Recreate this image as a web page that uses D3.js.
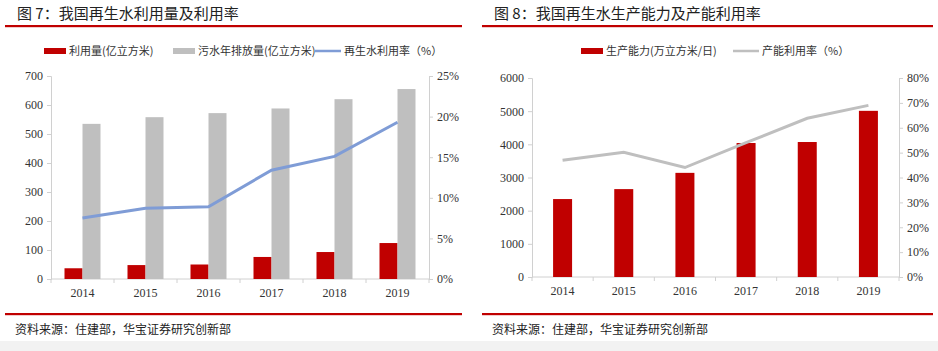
<!DOCTYPE html>
<html lang="zh">
<head>
<meta charset="UTF-8">
<title>再生水</title>
<script src="https://d3js.org/d3.v7.min.js"></script>
<style>
  body { margin: 0; background: #fff; }
  svg { display: block; }
  .cjk { font-family: "Noto Sans CJK SC", sans-serif; }
  .tick text { font-family: "Liberation Serif", serif; font-size: 12px; fill: #333; }
</style>
</head>
<body>
<script>
  // ---- data ----
  const years = ["2014", "2015", "2016", "2017", "2018", "2019"];
  // 图7
  const reuse = [37, 48, 50, 76, 93, 124];            // 利用量(亿立方米)
  const discharge = [535, 558, 572, 588, 620, 655];   // 污水年排放量(亿立方米)
  const reuseRate = [7.5, 8.7, 8.9, 13.4, 15.1, 19.3]; // 再生水利用率(%)
  // 图8
  const capacity = [2350, 2650, 3140, 4040, 4070, 5010]; // 生产能力(万立方米/日)
  const capRate = [46.9, 50.1, 44.0, 54.0, 63.8, 69.0];   // 产能利用率(%)

  const leftTicks = [0, 100, 200, 300, 400, 500, 600, 700];
  const leftPct = [0, 5, 10, 15, 20, 25];
  const rightTicks = [0, 1000, 2000, 3000, 4000, 5000, 6000];
  const rightPct = [0, 10, 20, 30, 40, 50, 60, 70, 80];

  const W = 938, H = 351;
  const red = "#c00000", gray = "#bfbfbf", blue = "#7f9cd6", axisCol = "#d0d0d0";

  const svg = d3.select("body").append("svg").attr("width", W).attr("height", H);
  svg.append("rect").attr("x", 0).attr("y", 341).attr("width", W).attr("height", 10).attr("fill", "#f2f2f2");

  function frame(x0, x1, title, titleX) {
    svg.append("text").attr("class", "cjk").attr("x", titleX).attr("y", 19)
      .attr("font-size", 15).attr("fill", "#222").text(title);
    svg.append("rect").attr("x", x0).attr("y", 25).attr("width", x1 - x0).attr("height", 2.2).attr("fill", red);
    svg.append("rect").attr("x", x0).attr("y", 313).attr("width", x1 - x0).attr("height", 2.2).attr("fill", red);
    svg.append("text").attr("class", "cjk").attr("x", x0 + 10).attr("y", 334)
      .attr("font-size", 12).attr("fill", "#222").text("资料来源：住建部，华宝证券研究创新部");
  }

  function styleAxis(g) {
    g.selectAll("path, line").attr("stroke", axisCol);
  }

  function xAxisDraw(x, y0) {
    const g = svg.append("g").attr("transform", `translate(0,${y0})`);
    g.append("line").attr("x1", x.range()[0]).attr("x2", x.range()[1]).attr("stroke", axisCol);
    const edges = years.map(d => x(d)).concat([x.range()[1]]);
    g.selectAll("line.sep").data(edges).join("line").attr("class", "sep")
      .attr("x1", d => d).attr("x2", d => d).attr("y1", 0).attr("y2", 4).attr("stroke", axisCol);
    g.selectAll("text").data(years).join("text")
      .attr("x", d => x(d) + x.bandwidth() / 2).attr("y", 18)
      .attr("text-anchor", "middle").attr("font-family", "Liberation Serif, serif")
      .attr("font-size", 12).attr("fill", "#333").text(d => d);
  }

  function legendItem(x, y, type, color, label) {
    if (type === "bar") {
      svg.append("rect").attr("x", x).attr("y", y - 3).attr("width", 22).attr("height", 6).attr("fill", color);
    } else {
      svg.append("line").attr("x1", x).attr("x2", x + 26).attr("y1", y).attr("y2", y)
        .attr("stroke", color).attr("stroke-width", 2.5);
    }
    svg.append("text").attr("class", "cjk").attr("x", x + (type === "bar" ? 25 : 29)).attr("y", y + 4)
      .attr("font-size", 11).attr("fill", "#333").text(label);
  }

  // ---------- 图7 ----------
  frame(5, 462, "图 7：我国再生水利用量及利用率", 17);
  {
    const x = d3.scaleBand().domain(years).range([51, 429]);
    const y = d3.scaleLinear().domain([0, 700]).range([279, 76]);
    const y2 = d3.scaleLinear().domain([0, 25]).range([279, 76]);
    const bw = 18;

    const ga = svg.append("g").attr("transform", "translate(51,0)")
      .call(d3.axisLeft(y).tickValues(leftTicks).tickSize(4).tickPadding(4).tickFormat(d3.format("d")));
    styleAxis(ga);
    const gb = svg.append("g").attr("transform", "translate(429,0)")
      .call(d3.axisRight(y2).tickValues(leftPct).tickSize(4).tickPadding(4).tickFormat(d => d + "%"));
    styleAxis(gb);
    xAxisDraw(x, 279);

    svg.append("g").selectAll("rect").data(years).join("rect")
      .attr("x", d => x(d) + x.bandwidth() / 2 - bw).attr("width", bw)
      .attr("y", (d, i) => y(reuse[i])).attr("height", (d, i) => y(0) - y(reuse[i]))
      .attr("fill", red);
    svg.append("g").selectAll("rect").data(years).join("rect")
      .attr("x", d => x(d) + x.bandwidth() / 2).attr("width", bw)
      .attr("y", (d, i) => y(discharge[i])).attr("height", (d, i) => y(0) - y(discharge[i]))
      .attr("fill", gray);
    svg.append("path").datum(reuseRate)
      .attr("d", d3.line().x((d, i) => x(years[i]) + x.bandwidth() / 2).y(d => y2(d)))
      .attr("fill", "none").attr("stroke", blue).attr("stroke-width", 3);

    legendItem(44, 51, "bar", red, "利用量(亿立方米)");
    legendItem(173, 51, "bar", gray, "污水年排放量(亿立方米)");
    legendItem(315, 51, "line", blue, "再生水利用率（%）");
  }

  // ---------- 图8 ----------
  frame(482, 933, "图 8：我国再生水生产能力及产能利用率", 494);
  {
    const x = d3.scaleBand().domain(years).range([532, 899]);
    const y = d3.scaleLinear().domain([0, 6000]).range([277, 78]);
    const y2 = d3.scaleLinear().domain([0, 80]).range([277, 78]);
    const bw = 19;

    const ga = svg.append("g").attr("transform", "translate(532,0)")
      .call(d3.axisLeft(y).tickValues(rightTicks).tickSize(4).tickPadding(4).tickFormat(d3.format("d")));
    styleAxis(ga);
    const gb = svg.append("g").attr("transform", "translate(899,0)")
      .call(d3.axisRight(y2).tickValues(rightPct).tickSize(4).tickPadding(4).tickFormat(d => d + "%"));
    styleAxis(gb);
    xAxisDraw(x, 277);

    svg.append("g").selectAll("rect").data(years).join("rect")
      .attr("x", d => x(d) + x.bandwidth() / 2 - bw / 2).attr("width", bw)
      .attr("y", (d, i) => y(capacity[i])).attr("height", (d, i) => y(0) - y(capacity[i]))
      .attr("fill", red);
    svg.append("path").datum(capRate)
      .attr("d", d3.line().x((d, i) => x(years[i]) + x.bandwidth() / 2).y(d => y2(d)))
      .attr("fill", "none").attr("stroke", gray).attr("stroke-width", 3);

    legendItem(581, 51, "bar", red, "生产能力(万立方米/日)");
    legendItem(733, 51, "line", gray, "产能利用率（%）");
  }
</script>
</body>
</html>
